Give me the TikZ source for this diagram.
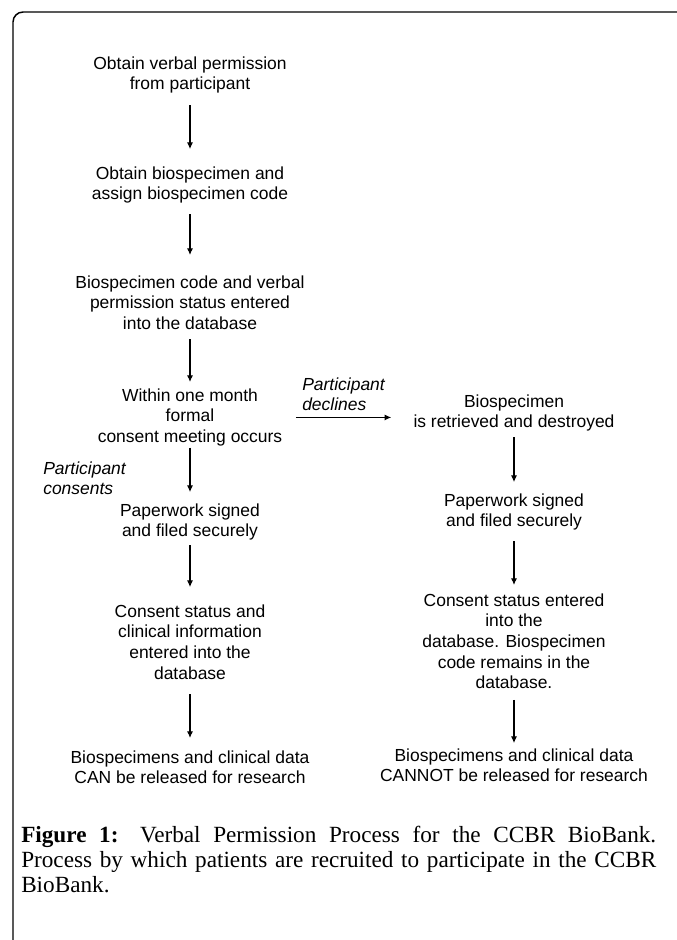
\documentclass[tikz,border=0pt]{standalone}
\usepackage{fontspec}
\newfontfamily\diagfont{Liberation Sans}
\newfontfamily\capfont{Liberation Serif}
\usetikzlibrary{arrows.meta}

\begin{document}
\begin{tikzpicture}[x=.75pt, y=-.75pt,
    txt/.style={align=center, inner sep=0pt, anchor=north,
        font=\diagfont\fontsize{13.1}{15.4}\selectfont},
    lbl/.style={align=left, inner sep=0pt, anchor=north west,
        font=\diagfont\itshape\fontsize{13.1}{15.4}\selectfont},
    arr/.style={line width=.8pt, -{Latex[length=5pt,width=4.6pt]}}]
        \useasboundingbox (0,0) rectangle (677,940);
        \draw[line width=1.1pt, rounded corners=7.5pt] (677,12) -- (13,12) -- (13,940);
        % left column
        \node[txt] (perm) at (190,56.5) {Obtain verbal permission\\from participant};
        \node[txt] (spec) at (190,166.5) {Obtain biospecimen and\\assign biospecimen code};
        \node[txt] (code) at (190,275.5) {Biospecimen code and verbal\\permission status entered\\into the database};
        \node[txt] (meet) at (190,388.5) {Within one month\\formal\\consent meeting occurs};
        \node[txt] (signL) at (190,503.5) {Paperwork signed\\and filed securely};
        \node[txt] (statL) at (190,604.5) {Consent status and\\clinical information\\entered into the\\database};
        \node[txt] (canL) at (190,750.5) {Biospecimens and clinical data\\CAN be released for research};
        % right column
        \node[txt] (destR) at (514,394.5) {Biospecimen\\is retrieved and destroyed};
        \node[txt] (signR) at (514,493.5) {Paperwork signed\\and filed securely};
        \node[txt] (statR) at (514,593.5) {Consent status entered\\into the\\database. Biospecimen\\code remains in the\\database.};
        \node[txt] (notR) at (514,748.5) {Biospecimens and clinical data\\CANNOT be released for research};
        % branch labels
        \node[lbl] (decl) at (302,377.5) {Participant\\declines};
        \node[lbl] (cons) at (43,461.5) {Participant\\consents};
        \draw[arr, shorten <=8.5pt, shorten >=13.1pt] (perm) -- (spec);
        \draw[arr, shorten <=7.7pt, shorten >=15.4pt] (spec) -- (code);
        \draw[arr, shorten <=6.8pt, shorten >=4.9pt] (code) -- (meet);
        \draw[arr, shorten <=1pt, shorten >=8.6pt] (meet) -- (signL);
        \draw[arr, shorten <=3.2pt, shorten >=13.1pt] (signL) -- (statL);
        \draw[arr, shorten <=11.2pt, shorten >=9.4pt] (statL) -- (canL);
        \draw[arr, shorten <=10pt, shorten >=16.5pt] (meet.east) -- (meet.east -| destR.west);
        \draw[arr, shorten <=4pt, shorten >=8.6pt] (destR) -- (signR);
        \draw[arr, shorten <=7.7pt, shorten >=6.4pt] (signR) -- (statR);
        \draw[arr, shorten <=8.2pt, shorten >=4.1pt] (statR) -- (notR);
        % caption
        \node[anchor=north west, text width=476.25pt, align=justify, inner sep=0pt,
            font=\capfont\fontsize{17.4}{18.75}\selectfont] (cap) at (21,826)
            {\hyphenpenalty10000 \tolerance10000
            \textbf{Figure 1:} Verbal Permission Process for the CCBR BioBank.\linebreak
            Process by which patients are recruited to participate in the CCBR\linebreak
            BioBank.};
\end{tikzpicture}
\end{document}
